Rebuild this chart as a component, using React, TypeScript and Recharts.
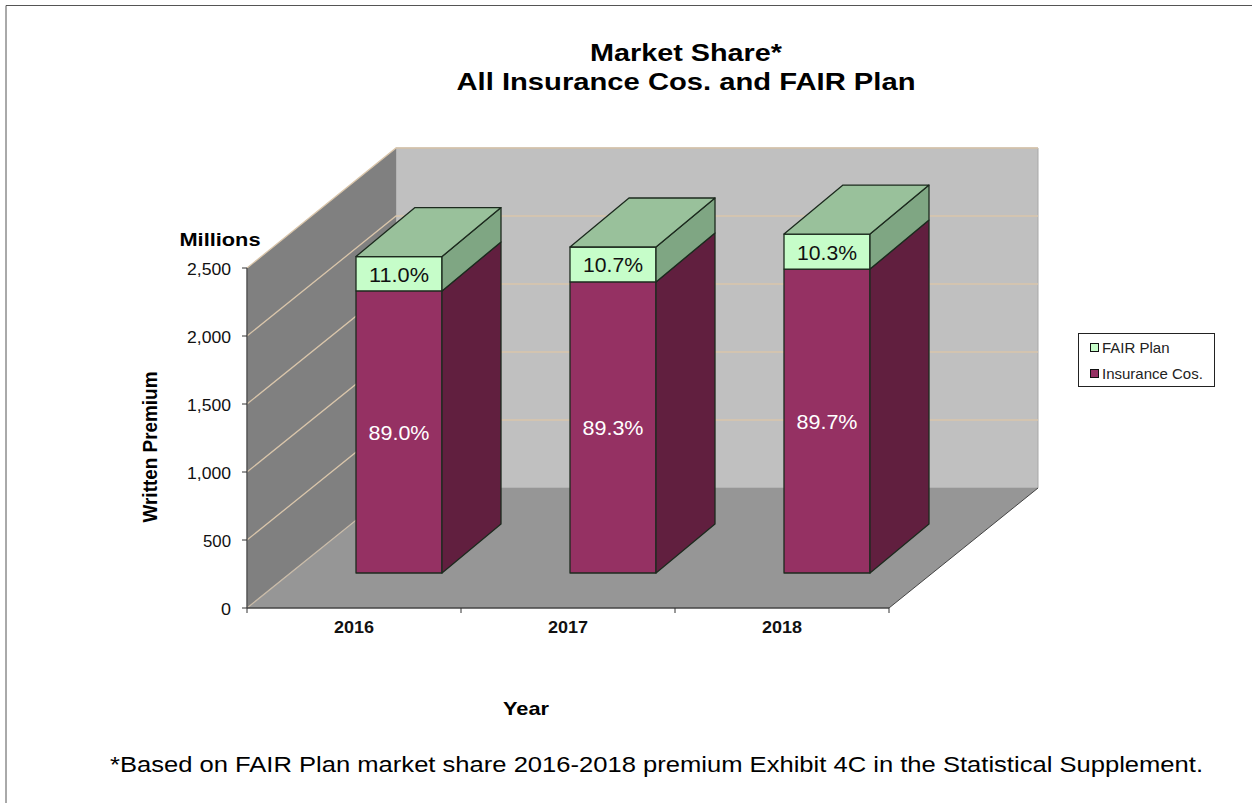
import React from "react";
import { BarChart, Bar, XAxis, YAxis, Legend, LabelList, ReferenceArea } from "recharts";

const years = ["2016", "2017", "2018"];
const insuranceCos = [2074, 2140, 2235];
const fairPlan = [253, 257, 257];
const insuranceShare = ["89.0%", "89.3%", "89.7%"];
const fairShare = ["11.0%", "10.7%", "10.3%"];
const yTicks = [0, 500, 1000, 1500, 2000, 2500];
const yTickLabels = ["0", "500", "1,000", "1,500", "2,000", "2,500"];

const data = years.map((year, i) => ({
  year,
  insurance: insuranceCos[i],
  fair: fairPlan[i],
}));

const FONT = "'Liberation Sans', Arial, sans-serif";

// 3d look: wall depth and how far into the room the bars stand
const WALL_DX = 149;
const WALL_DY = 120;
const BAR_SHIFT_X = 45;
const BAR_SHIFT_Y = 35;
const BAR_DX = 59;
const BAR_DY = 49;

const Walls = (props: any) => {
  const { x, y, width, height } = props;
  const bottom = y + height;
  const right = x + width;
  const ticks = years.map((_, i) => x + (width * i) / years.length).concat(right);
  const yMax = yTicks[yTicks.length - 1];
  return (
    <g>
      <polygon
        points={`${x + WALL_DX},${y - WALL_DY} ${right + WALL_DX},${y - WALL_DY} ${right + WALL_DX},${bottom - WALL_DY} ${x + WALL_DX},${bottom - WALL_DY}`}
        fill="#c0c0c0"
        stroke="#a8a8a8"
      />
      <polygon
        points={`${x},${y} ${x + WALL_DX},${y - WALL_DY} ${x + WALL_DX},${bottom - WALL_DY} ${x},${bottom}`}
        fill="#808080"
      />
      <polygon
        points={`${x},${bottom} ${x + WALL_DX},${bottom - WALL_DY} ${right + WALL_DX},${bottom - WALL_DY} ${right},${bottom}`}
        fill="#969696"
      />
      {/* gridlines run along the side wall and then the back wall, behind the bars */}
      {yTicks.slice(1).map((v) => {
        const gy = bottom - (height * v) / yMax;
        return (
          <polyline
            key={v}
            points={`${x},${gy} ${x + WALL_DX},${gy - WALL_DY} ${right + WALL_DX},${gy - WALL_DY}`}
            fill="none"
            stroke="#d9c5aa"
            strokeWidth={1.3}
          />
        );
      })}
      <polyline
        points={`${x},${bottom} ${x + WALL_DX},${bottom - WALL_DY}`}
        fill="none"
        stroke="#c9bba8"
        strokeWidth={1.2}
      />
      <polyline
        points={`${right},${bottom} ${right + WALL_DX},${bottom - WALL_DY}`}
        fill="none"
        stroke="#444444"
      />
      <line x1={x} y1={y} x2={x} y2={bottom} stroke="#555555" strokeWidth={1.5} />
      <line x1={x} y1={bottom} x2={right} y2={bottom} stroke="#444444" strokeWidth={1.5} />
      {ticks.map((t) => (
        <line key={t} x1={t} y1={bottom} x2={t} y2={bottom + 5} stroke="#333333" />
      ))}
    </g>
  );
};

const Block = (props: any) => {
  const { x, y, width, height, front, side, cap } = props;
  const l = x + BAR_SHIFT_X;
  const r = l + width;
  const t = y - BAR_SHIFT_Y;
  const b = t + height;
  const edge = "#1c2a1e";
  return (
    <g stroke={edge} strokeWidth={1.3} strokeLinejoin="round">
      <rect x={l} y={t} width={width} height={height} fill={front} />
      <polygon
        points={`${r},${b} ${r + BAR_DX},${b - BAR_DY} ${r + BAR_DX},${t - BAR_DY} ${r},${t}`}
        fill={side}
      />
      {cap && (
        <polygon
          points={`${l},${t} ${l + BAR_DX},${t - BAR_DY} ${r + BAR_DX},${t - BAR_DY} ${r},${t}`}
          fill={cap}
        />
      )}
    </g>
  );
};

const InsuranceBar = (props: any) => <Block {...props} front="#953163" side="#611f3f" />;
const FairBar = (props: any) => <Block {...props} front="#c6fdc9" side="#7fa683" cap="#99c19b" />;

const shareLabel = (shares: string[], color: string, width: number) => (props: any) => {
  const { x, y, width: w, height, index } = props;
  return (
    <text
      x={x + w / 2 + BAR_SHIFT_X}
      y={y + height / 2 - BAR_SHIFT_Y + 8}
      textAnchor="middle"
      fontFamily={FONT}
      fontSize={20}
      fill={color}
      textLength={width}
      lengthAdjust="spacingAndGlyphs"
    >
      {shares[index]}
    </text>
  );
};

const YTick = (props: any) => {
  const { x, y, payload } = props;
  const label = yTickLabels[yTicks.indexOf(payload.value)];
  return (
    <text
      x={x}
      y={y + 7}
      textAnchor="end"
      fontFamily={FONT}
      fontSize={16}
      fill="#111111"
      textLength={label.length > 3 ? 44 : label.length > 1 ? 28 : 10}
      lengthAdjust="spacingAndGlyphs"
    >
      {label}
    </text>
  );
};

const XTick = (props: any) => {
  const { x, y, payload } = props;
  return (
    <text
      x={x}
      y={y + 14}
      textAnchor="middle"
      fontFamily={FONT}
      fontSize={16}
      fontWeight={700}
      fill="#111111"
      textLength={40}
      lengthAdjust="spacingAndGlyphs"
    >
      {payload.value}
    </text>
  );
};

const LegendBox = (props: any) => {
  const items = props.payload ?? [];
  return (
    <div
      style={{
        width: 137,
        height: 54,
        boxSizing: "border-box",
        border: "1px solid #222222",
        background: "#ffffff",
        fontFamily: FONT,
        fontSize: 15,
        color: "#222222",
      }}
    >
      {items.map((item: any) => (
        <div key={item.value} style={{ display: "flex", alignItems: "center", height: 26.5, paddingLeft: 11 }}>
          <span
            style={{
              width: 9,
              height: 9,
              boxSizing: "border-box",
              background: item.color,
              border: "1.5px solid #111111",
              marginRight: 3,
            }}
          />
          {item.value}
        </div>
      ))}
    </div>
  );
};

export default function App() {
  return (
    <div style={{ position: "absolute", left: 0, top: 0, width: 1252, height: 803, background: "#ffffff" }}>
      <BarChart
        width={1252}
        height={803}
        data={data}
        margin={{ top: 268, right: 363, bottom: 165, left: 187 }}
        barSize={86}
      >
        <XAxis dataKey="year" height={30} axisLine={false} tickLine={false} tick={<XTick />} tickMargin={5} />
        <YAxis
          domain={[0, 2500]}
          ticks={yTicks}
          width={60}
          axisLine={false}
          tickLine={{ stroke: "#333333" }}
          tickSize={5}
          tick={<YTick />}
          tickMargin={11}
        />
        <ReferenceArea y1={0} y2={2500} shape={<Walls />} />
        <Bar
          dataKey="insurance"
          name="Insurance Cos."
          stackId="premium"
          fill="#953163"
          shape={<InsuranceBar />}
          isAnimationActive={false}
        >
          <LabelList dataKey="insurance" content={shareLabel(insuranceShare, "#ffffff", 61)} />
        </Bar>
        <Bar
          dataKey="fair"
          name="FAIR Plan"
          stackId="premium"
          fill="#c6fdc9"
          shape={<FairBar />}
          isAnimationActive={false}
        >
          <LabelList dataKey="fair" content={shareLabel(fairShare, "#111111", 60)} />
        </Bar>
        <Legend
          layout="horizontal"
          verticalAlign="middle"
          wrapperStyle={{ left: 1078, top: 333, width: 137, height: 54 }}
          content={<LegendBox />}
        />
      </BarChart>
      <svg
        width={1252}
        height={803}
        style={{ position: "absolute", left: 0, top: 0, pointerEvents: "none" }}
        fontFamily={FONT}
      >
        <polyline points="1252,5.5 6,5.5 6,803" fill="none" stroke="#555555" />
        <text x={686} y={61} textAnchor="middle" fontSize={24} fontWeight={700} textLength={192} lengthAdjust="spacingAndGlyphs" fill="#000000">
          Market Share*
        </text>
        <text x={686} y={90} textAnchor="middle" fontSize={24} fontWeight={700} textLength={459} lengthAdjust="spacingAndGlyphs" fill="#000000">
          All Insurance Cos. and FAIR Plan
        </text>
        <text x={220} y={246} textAnchor="middle" fontSize={19} fontWeight={700} textLength={81} lengthAdjust="spacingAndGlyphs" fill="#000000">
          Millions
        </text>
        <text
          transform="translate(157,447) rotate(-90)"
          textAnchor="middle"
          fontSize={20}
          fontWeight={700}
          textLength={151}
          lengthAdjust="spacingAndGlyphs"
          fill="#000000"
        >
          Written Premium
        </text>
        <text x={526} y={715} textAnchor="middle" fontSize={18.5} fontWeight={700} textLength={46} lengthAdjust="spacingAndGlyphs" fill="#000000">
          Year
        </text>
        <text x={656.5} y={771.5} textAnchor="middle" fontSize={22} textLength={1093} lengthAdjust="spacingAndGlyphs" fill="#000000">
          *Based on FAIR Plan market share 2016-2018 premium Exhibit 4C in the Statistical Supplement.
        </text>
      </svg>
    </div>
  );
}
